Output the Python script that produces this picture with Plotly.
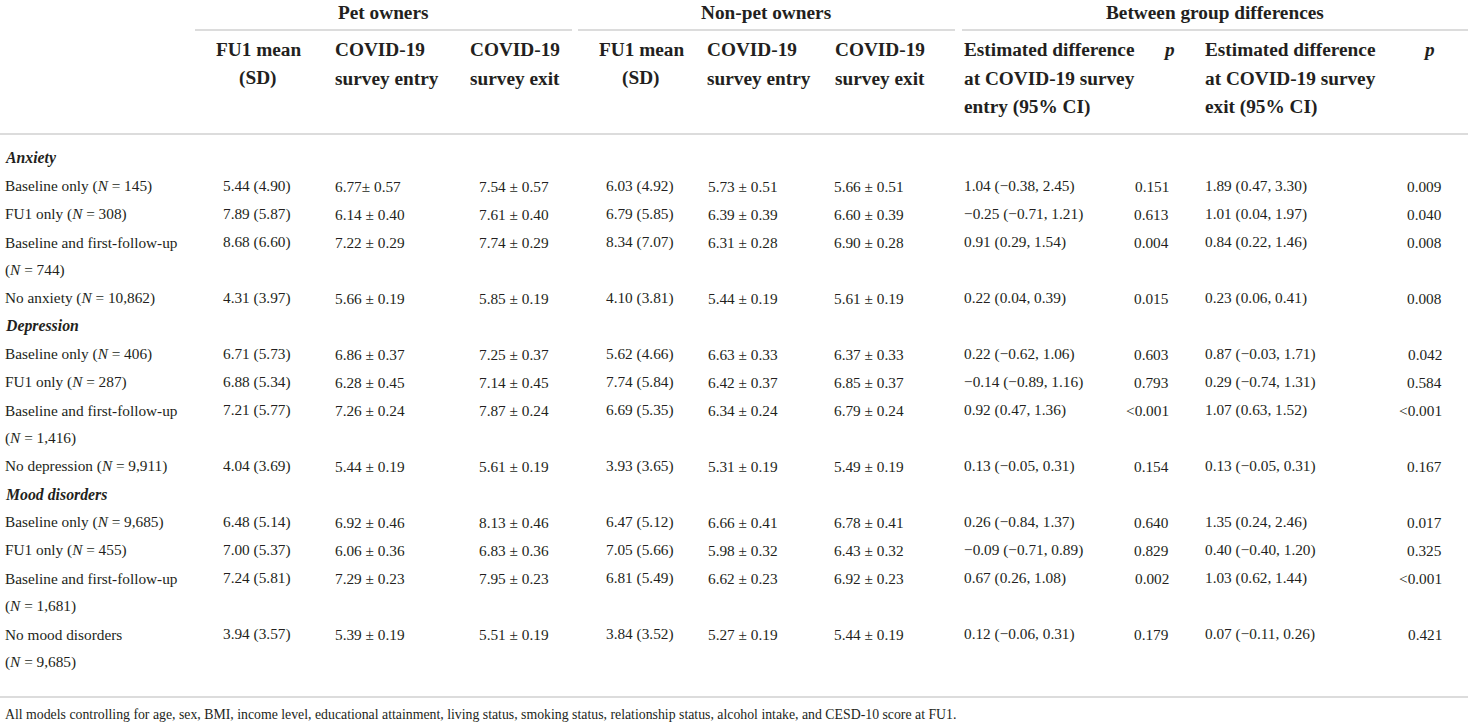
import plotly.graph_objects as go

# ---------------- data ----------------
group_headers = ["Pet owners", "Non-pet owners", "Between group differences"]
column_headers = [
    "FU1 mean|(SD)", "COVID-19|survey entry", "COVID-19|survey exit",
    "FU1 mean|(SD)", "COVID-19|survey entry", "COVID-19|survey exit",
    "Estimated difference|at COVID-19 survey|entry (95% CI)", "<i>p</i>",
    "Estimated difference|at COVID-19 survey|exit (95% CI)", "<i>p</i>",
]
sections = ["Anxiety", "Depression", "Mood disorders"]
row_labels = [
    ["Baseline only (N = 145)", "FU1 only (N = 308)",
     "Baseline and first-follow-up|(N = 744)", "No anxiety (N = 10,862)"],
    ["Baseline only (N = 406)", "FU1 only (N = 287)",
     "Baseline and first-follow-up|(N = 1,416)", "No depression (N = 9,911)"],
    ["Baseline only (N = 9,685)", "FU1 only (N = 455)",
     "Baseline and first-follow-up|(N = 1,681)", "No mood disorders|(N = 9,685)"],
]
pet_fu1 = ["5.44 (4.90)", "7.89 (5.87)", "8.68 (6.60)", "4.31 (3.97)",
           "6.71 (5.73)", "6.88 (5.34)", "7.21 (5.77)", "4.04 (3.69)",
           "6.48 (5.14)", "7.00 (5.37)", "7.24 (5.81)", "3.94 (3.57)"]
pet_entry = ["6.77± 0.57", "6.14 ± 0.40", "7.22 ± 0.29", "5.66 ± 0.19",
             "6.86 ± 0.37", "6.28 ± 0.45", "7.26 ± 0.24", "5.44 ± 0.19",
             "6.92 ± 0.46", "6.06 ± 0.36", "7.29 ± 0.23", "5.39 ± 0.19"]
pet_exit = ["7.54 ± 0.57", "7.61 ± 0.40", "7.74 ± 0.29", "5.85 ± 0.19",
            "7.25 ± 0.37", "7.14 ± 0.45", "7.87 ± 0.24", "5.61 ± 0.19",
            "8.13 ± 0.46", "6.83 ± 0.36", "7.95 ± 0.23", "5.51 ± 0.19"]
non_fu1 = ["6.03 (4.92)", "6.79 (5.85)", "8.34 (7.07)", "4.10 (3.81)",
           "5.62 (4.66)", "7.74 (5.84)", "6.69 (5.35)", "3.93 (3.65)",
           "6.47 (5.12)", "7.05 (5.66)", "6.81 (5.49)", "3.84 (3.52)"]
non_entry = ["5.73 ± 0.51", "6.39 ± 0.39", "6.31 ± 0.28", "5.44 ± 0.19",
             "6.63 ± 0.33", "6.42 ± 0.37", "6.34 ± 0.24", "5.31 ± 0.19",
             "6.66 ± 0.41", "5.98 ± 0.32", "6.62 ± 0.23", "5.27 ± 0.19"]
non_exit = ["5.66 ± 0.51", "6.60 ± 0.39", "6.90 ± 0.28", "5.61 ± 0.19",
            "6.37 ± 0.33", "6.85 ± 0.37", "6.79 ± 0.24", "5.49 ± 0.19",
            "6.78 ± 0.41", "6.43 ± 0.32", "6.92 ± 0.23", "5.44 ± 0.19"]
diff_entry = ["1.04 (−0.38, 2.45)", "−0.25 (−0.71, 1.21)", "0.91 (0.29, 1.54)", "0.22 (0.04, 0.39)",
              "0.22 (−0.62, 1.06)", "−0.14 (−0.89, 1.16)", "0.92 (0.47, 1.36)", "0.13 (−0.05, 0.31)",
              "0.26 (−0.84, 1.37)", "−0.09 (−0.71, 0.89)", "0.67 (0.26, 1.08)", "0.12 (−0.06, 0.31)"]
p_entry = ["0.151", "0.613", "0.004", "0.015",
           "0.603", "0.793", "<0.001", "0.154",
           "0.640", "0.829", "0.002", "0.179"]
diff_exit = ["1.89 (0.47, 3.30)", "1.01 (0.04, 1.97)", "0.84 (0.22, 1.46)", "0.23 (0.06, 0.41)",
             "0.87 (−0.03, 1.71)", "0.29 (−0.74, 1.31)", "1.07 (0.63, 1.52)", "0.13 (−0.05, 0.31)",
             "1.35 (0.24, 2.46)", "0.40 (−0.40, 1.20)", "1.03 (0.62, 1.44)", "0.07 (−0.11, 0.26)"]
p_exit = ["0.009", "0.040", "0.008", "0.008",
          "0.042", "0.584", "<0.001", "0.167",
          "0.017", "0.325", "<0.001", "0.421"]
footnote = ("All models controlling for age, sex, BMI, income level, educational attainment, "
            "living status, smoking status, relationship status, alcohol intake, and CESD-10 score at FU1.")

data_columns = [pet_fu1, pet_entry, pet_exit, non_fu1, non_entry, non_exit,
                diff_entry, p_entry, diff_exit, p_exit]

# ---------------- layout / style ----------------
W, H = 1476, 726
FONT = "Liberation Serif"
TXT = "#231f20"
LINE = "#dcdcdc"
HEAD_SIZE = 19.3
DATA_SIZE = 15.3
FOOT_SIZE = 13.8

# (header x, header anchor, data x, data anchor)
col_pos = [
    (258, "center", 257, "center"),
    (333, "left", 333, "left"),
    (468, "left", 477, "left"),
    (641, "center", 640, "center"),
    (705, "left", 706, "left"),
    (833, "left", 832, "left"),
    (962, "left", 962, "left"),
    (1169, "center", 1171, "right"),
    (1203, "left", 1203, "left"),
    (1429, "center", 1444, "right"),
]
group_spans = [(195, 572), (578, 955), (962, 1468)]
group_y = 12
group_line_y = 30
head_y0, head_dy = 49, 29
rule1_y = 134
body_y0, body_dy = 158, 28
rule2_y = 697
foot_y = 714
label_x = 3


def ital_n(s):
    return s.replace("(N =", "(<i>N</i> =")


fig = go.Figure()
ann = []
shapes = []


def add_text(x, y, text, anchor, size, bold=False):
    t = f"<b>{text}</b>" if bold else text
    ann.append(dict(x=x, y=y, xref="x", yref="y", text=t, showarrow=False,
                    xanchor=anchor, yanchor="middle",
                    font=dict(family=FONT, size=size, color=TXT)))


# group headers with segmented rules
for name, (x0, x1) in zip(group_headers, group_spans):
    add_text((x0 + x1) / 2, group_y, name, "center", HEAD_SIZE, bold=True)
    shapes.append(dict(type="line", xref="x", yref="y", x0=x0, x1=x1,
                       y0=group_line_y, y1=group_line_y,
                       line=dict(color=LINE, width=2)))

# column headers
for hdr, (hx, ha, _, _) in zip(column_headers, col_pos):
    for k, part in enumerate(hdr.split("|")):
        add_text(hx, head_y0 + k * head_dy, part, ha, HEAD_SIZE, bold=True)

# rules
shapes.append(dict(type="line", xref="x", yref="y", x0=0, x1=1468,
                   y0=rule1_y, y1=rule1_y, line=dict(color=LINE, width=2)))
shapes.append(dict(type="line", xref="x", yref="y", x0=0, x1=1468,
                   y0=rule2_y, y1=rule2_y, line=dict(color=LINE, width=2)))

# body
line_idx = 0
row_i = 0
for sec, labels in zip(sections, row_labels):
    add_text(label_x, body_y0 + line_idx * body_dy, f"<i>{sec}</i>", "left",
             DATA_SIZE + 0.5, bold=True)
    line_idx += 1
    for lab in labels:
        y = body_y0 + line_idx * body_dy
        parts = lab.split("|")
        for k, part in enumerate(parts):
            add_text(label_x, y + k * body_dy, ital_n(part), "left", DATA_SIZE)
        for col, (_, _, dx, da) in zip(data_columns, col_pos):
            add_text(dx, y, col[row_i], da, DATA_SIZE)
        line_idx += len(parts)
        row_i += 1

add_text(label_x, foot_y, footnote, "left", FOOT_SIZE)

fig.update_layout(
    width=W, height=H,
    margin=dict(l=0, r=0, t=0, b=0),
    paper_bgcolor="white", plot_bgcolor="white",
    xaxis=dict(range=[0, W], visible=False, fixedrange=True),
    yaxis=dict(range=[H, 0], visible=False, fixedrange=True),
    annotations=ann, shapes=shapes, showlegend=False,
)
fig.write_html(
    "out.html",
    config={"displayModeBar": False},
    post_script="document.body.style.margin='0px';document.body.style.overflow='hidden';",
)
